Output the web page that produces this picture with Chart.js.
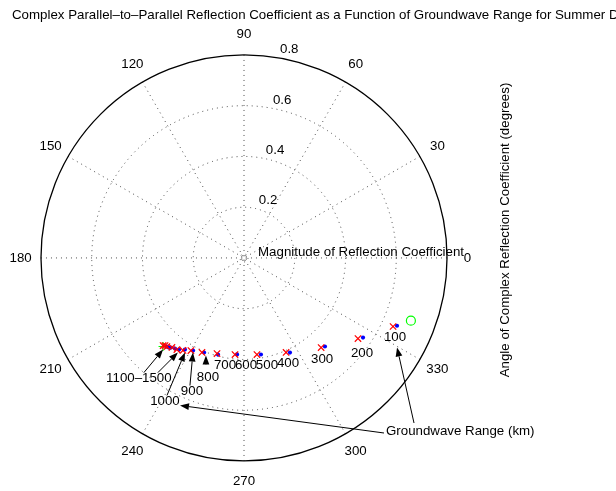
<!DOCTYPE html>
<html>
<head>
<meta charset="utf-8">
<script src="https://cdn.jsdelivr.net/npm/chart.js@4.4.0/dist/chart.umd.min.js"></script>
<style>
  html, body { margin: 0; padding: 0; background: #fff; }
  canvas { display: block; }
</style>
</head>
<body>
<canvas id="reflChart" width="616" height="491"></canvas>
<script>
// Groundwave range (km) of each computed coefficient
const ranges = [100, 200, 300, 400, 500, 600, 700, 800, 900, 1000, 1100, 1200, 1300, 1400, 1500];

// Coefficient magnitude / angle (deg), red x markers
const magRed = [0.647, 0.551, 0.467, 0.409, 0.386, 0.384, 0.393, 0.409, 0.422, 0.438, 0.449, 0.454, 0.464, 0.466, 0.471];
const angRed = [335.2, 324.6, 310.6, 293.9, 277.6, 264.7, 254.3, 246.1, 240.3, 236.7, 233.9, 231.3, 229.1, 228.1, 227.4];

// Same ranges, blue dots
const magBlue = [0.660, 0.565, 0.474, 0.416, 0.388, 0.383, 0.396, 0.406, 0.418, 0.431, 0.444, 0.450, 0.457, 0.462, 0.464];
const angBlue = [336.0, 326.1, 312.3, 295.8, 279.9, 265.9, 255.0, 247.2, 241.3, 237.3, 234.8, 232.8, 230.9, 230.2, 229.1];

// Limit values: green + (far end) and green o (near end)
const magFar = [0.474];
const angFar = [227.7];
const magNear = [0.703];
const angNear = [339.3];

// Polar grid
const rMax = 0.8;
const ringValues = [0.2, 0.4, 0.6, 0.8];
const spokeAngles = [0, 30, 60, 90, 120, 150, 180, 210, 240, 270, 300, 330];

const titleText = 'Complex Parallel\u2013to\u2013Parallel Reflection Coefficient as a Function of Groundwave Range for Summer Day';
const xTitle = 'Magnitude of Reflection Coefficient';
const yTitle = 'Angle of Complex Reflection Coefficient (degrees)';
const noteText = 'Groundwave Range (km)';

const FONT = '13.3px "Liberation Sans", Arial, Helvetica, sans-serif';

function toXY(mags, angs) {
    return mags.map((m, i) => {
        const a = angs[i] * Math.PI / 180;
        return { x: m * Math.cos(a), y: m * Math.sin(a) };
    });
}

// label offsets (px) from the red marker of the same range
const labelShift = [[2, 11], [4, 15], [1, 12], [2, 11], [10, 11], [11, 11], [8, 12], [6, 25], [1, 41], [-18, 51]];

function arrow(ctx, x0, y0, x1, y1) {
    const a = Math.atan2(y1 - y0, x1 - x0);
    const len = 9, half = 3.4;
    const bx = x1 - len * Math.cos(a), by = y1 - len * Math.sin(a);
    ctx.beginPath();
    ctx.moveTo(x0, y0);
    ctx.lineTo(bx, by);
    ctx.stroke();
    ctx.beginPath();
    ctx.moveTo(x1, y1);
    ctx.lineTo(bx + half * Math.sin(a), by - half * Math.cos(a));
    ctx.lineTo(bx - half * Math.sin(a), by + half * Math.cos(a));
    ctx.closePath();
    ctx.fill();
}

const polarGrid = {
    id: 'polarGrid',
    beforeDatasetsDraw(chart) {
        const ctx = chart.ctx;
        const sx = chart.scales.x, sy = chart.scales.y;
        const cx = sx.getPixelForValue(0), cy = sy.getPixelForValue(0);
        const k = sx.getPixelForValue(1) - cx;
        ctx.save();
        ctx.strokeStyle = '#222';
        ctx.lineWidth = 0.8;
        ctx.setLineDash([1, 4]);
        // spokes through the centre
        spokeAngles.slice(0, 6).forEach(d => {
            const a = d * Math.PI / 180;
            ctx.beginPath();
            ctx.moveTo(cx - rMax * k * Math.cos(a), cy + rMax * k * Math.sin(a));
            ctx.lineTo(cx + rMax * k * Math.cos(a), cy - rMax * k * Math.sin(a));
            ctx.stroke();
        });
        ringValues.slice(0, -1).forEach(r => {
            ctx.beginPath();
            ctx.arc(cx, cy, r * k, 0, Math.PI * 2);
            ctx.stroke();
        });
        ctx.beginPath();
        ctx.arc(cx, cy, 4, 0, Math.PI * 2);
        ctx.stroke();
        // solid outer ring
        ctx.setLineDash([]);
        ctx.strokeStyle = '#000';
        ctx.lineWidth = 1.3;
        ctx.beginPath();
        ctx.arc(cx, cy, rMax * k, 0, Math.PI * 2);
        ctx.stroke();
        ctx.restore();
    },
    afterDatasetsDraw(chart) {
        const ctx = chart.ctx;
        const sx = chart.scales.x, sy = chart.scales.y;
        const cx = sx.getPixelForValue(0), cy = sy.getPixelForValue(0);
        const k = sx.getPixelForValue(1) - cx;
        const pts = chart.getDatasetMeta(0).data;
        ctx.save();
        ctx.font = FONT;
        ctx.fillStyle = '#000';
        ctx.strokeStyle = '#000';
        ctx.lineWidth = 1;

        // angle labels
        ctx.textAlign = 'center';
        ctx.textBaseline = 'middle';
        spokeAngles.forEach(d => {
            const a = d * Math.PI / 180;
            const r = 1.1 * rMax * k;
            ctx.fillText(String(d), cx + r * Math.cos(a), cy - r * Math.sin(a));
        });

        // ring labels along 82 deg
        ctx.textAlign = 'left';
        ctx.textBaseline = 'bottom';
        const a82 = 82 * Math.PI / 180;
        ringValues.forEach(r => {
            const rr = (r + 0.01) * k;
            ctx.fillText('  ' + r.toFixed(1), cx + rr * Math.cos(a82), cy - rr * Math.sin(a82) + 2);
        });

        // titles
        ctx.textBaseline = 'middle';
        ctx.fillText(titleText, 12, 15);
        ctx.textAlign = 'center';
        ctx.fillText(xTitle, 361, 252);
        ctx.save();
        ctx.translate(505, 230);
        ctx.rotate(-Math.PI / 2);
        ctx.fillText(yTitle, 0, 0);
        ctx.restore();

        // range labels under the markers
        const labelPos = [];
        labelShift.forEach((s, i) => {
            const x = pts[i].x + s[0], y = pts[i].y + s[1];
            labelPos.push([x, y]);
            ctx.fillText(String(ranges[i]), x, y);
        });
        const grpX = pts[10].x - 38, grpY = pts[10].y + 29;
        ctx.fillText(ranges[10] + '\u2013' + ranges[14], grpX, grpY);

        // arrows to the crowded markers
        arrow(ctx, grpX + 5, grpY - 6, pts[14].x, pts[14].y + 4);
        arrow(ctx, grpX + 19, grpY - 6, pts[10].x + 1, pts[10].y + 3);
        arrow(ctx, labelPos[9][0] + 2, labelPos[9][1] - 6, pts[9].x + 2, pts[9].y + 2);
        arrow(ctx, labelPos[8][0] - 2, labelPos[8][1] - 6, pts[8].x + 2, pts[8].y + 2);
        arrow(ctx, labelPos[7][0] - 2, labelPos[7][1] - 14, pts[7].x + 4, pts[7].y + 3);

        // range note with its two arrows
        const nx = 386, ny = 431;
        ctx.textAlign = 'left';
        ctx.fillText(noteText, nx, ny);
        arrow(ctx, nx - 2, ny + 2, labelPos[9][0] + 15, labelPos[9][1] + 4);
        arrow(ctx, nx + 28, ny - 8, pts[0].x + 4, pts[0].y + 21);
        ctx.restore();
    }
};

new Chart(document.getElementById('reflChart').getContext('2d'), {
    type: 'scatter',
    data: {
        datasets: [{
            data: toXY(magRed, angRed),
            pointStyle: 'crossRot',
            pointRadius: 4.5,
            borderColor: '#ff0000',
            borderWidth: 1.2,
            clip: false
        }, {
            data: toXY(magBlue, angBlue),
            pointStyle: 'circle',
            pointRadius: 2.1,
            backgroundColor: '#0000ff',
            borderColor: '#0000ff',
            borderWidth: 0,
            clip: false
        }, {
            data: toXY(magFar, angFar),
            pointStyle: 'cross',
            pointRadius: 4.5,
            borderColor: '#00ff00',
            borderWidth: 1.2,
            clip: false
        }, {
            data: toXY(magNear, angNear),
            pointStyle: 'circle',
            pointRadius: 4.5,
            backgroundColor: 'rgba(0,0,0,0)',
            borderColor: '#00ff00',
            borderWidth: 1.2,
            clip: false
        }]
    },
    options: {
        responsive: false,
        animation: false,
        devicePixelRatio: 1,
        events: [],
        layout: { padding: { left: 15.6, right: 143.6, top: 30.6, bottom: 3.6 } },
        plugins: {
            legend: { display: false },
            tooltip: { enabled: false }
        },
        scales: {
            x: { type: 'linear', min: -0.9, max: 0.9, display: false },
            y: { type: 'linear', min: -0.9, max: 0.9, display: false }
        }
    },
    plugins: [polarGrid]
});
</script>
</body>
</html>
